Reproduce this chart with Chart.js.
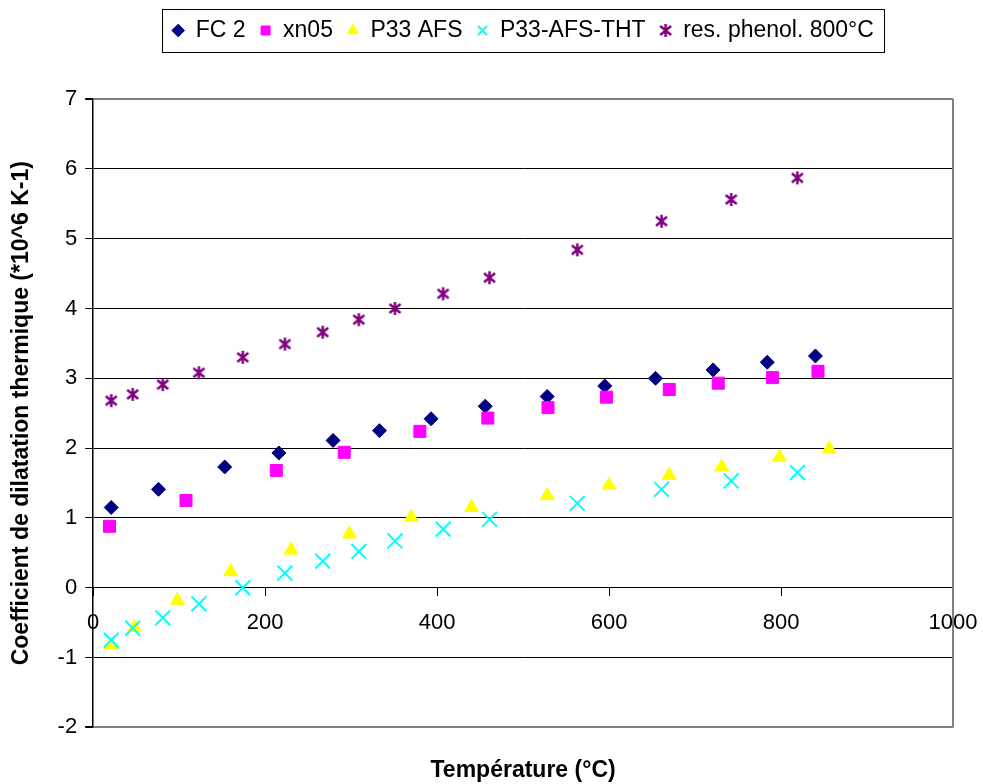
<!DOCTYPE html>
<html>
<head>
<meta charset="utf-8">
<script src="https://cdn.jsdelivr.net/npm/chart.js@4/dist/chart.umd.min.js"></script>
<style>
    html, body { margin: 0; padding: 0; background: #fff; }
    #wrap { width: 983px; height: 784px; }
</style>
</head>
<body>
<div id="wrap"><canvas id="dilatationChart"></canvas></div>
<script>
// temperatures (°C) and coefficients (*10^6 K-1)
var fc2Temp = [21, 76, 153, 216, 279, 333, 393, 456, 528, 595, 654, 721, 784, 840];
var fc2Val = [1.15, 1.41, 1.73, 1.93, 2.11, 2.25, 2.42, 2.60, 2.74, 2.89, 3.00, 3.12, 3.23, 3.32];

var xn05Temp = [19, 108, 213, 292, 380, 459, 529, 597, 670, 727, 790, 843];
var xn05Val = [0.88, 1.25, 1.68, 1.94, 2.24, 2.43, 2.58, 2.73, 2.84, 2.93, 3.01, 3.10];

var afsTemp = [21, 48, 98, 160, 230, 298, 370, 440, 528, 600, 670, 731, 798, 856];
var afsVal = [-0.82, -0.57, -0.18, 0.23, 0.54, 0.77, 1.01, 1.15, 1.32, 1.47, 1.61, 1.73, 1.87, 1.99];

var thtTemp = [21, 46, 81, 123, 174, 223, 267, 309, 351, 407, 461, 563, 661, 742, 819];
var thtVal = [-0.75, -0.58, -0.43, -0.23, 0.00, 0.21, 0.38, 0.52, 0.67, 0.84, 0.98, 1.21, 1.41, 1.53, 1.65];

var phenolTemp = [21, 46, 81, 123, 174, 223, 267, 309, 351, 407, 461, 563, 661, 742, 819];
var phenolVal = [2.68, 2.77, 2.91, 3.08, 3.30, 3.49, 3.66, 3.84, 4.00, 4.21, 4.44, 4.84, 5.25, 5.56, 5.87];

var seriesLabels = ['FC 2', 'xn05', 'P33 AFS', 'P33-AFS-THT', 'res. phenol. 800°C'];

var yMin = -2, yMax = 7;
var xMin = 0, xMax = 1000;

function toPoints(xs, ys) {
    return xs.map(function (x, i) { return { x: x, y: ys[i] }; });
}

// asterisk marker: vertical bar + X, like the Excel star
function makeAsterisk(color, size) {
    var c = document.createElement('canvas');
    c.width = size;
    c.height = size;
    var g = c.getContext('2d');
    var m = size / 2;
    g.strokeStyle = color;
    g.lineWidth = 2.5;
    g.beginPath();
    g.moveTo(m, 1);
    g.lineTo(m, size - 1);
    g.moveTo(2, 3);
    g.lineTo(size - 2, size - 3);
    g.moveTo(size - 2, 3);
    g.lineTo(2, size - 3);
    g.stroke();
    return c;
}

var fontFamily = "'Liberation Sans', Arial, sans-serif";

// gray frame on the right side of the plot area
var plotFrame = {
    id: 'plotFrame',
    afterDatasetsDraw: function (chart) {
        var a = chart.chartArea;
        var ctx = chart.ctx;
        ctx.save();
        ctx.strokeStyle = '#808080';
        ctx.lineWidth = 2;
        ctx.beginPath();
        ctx.moveTo(a.right, a.top);
        ctx.lineTo(a.right, a.bottom);
        ctx.stroke();
        ctx.restore();
    }
};

// black box around the legend items
var legendBox = {
    id: 'legendBox',
    afterDraw: function (chart) {
        var boxes = chart.legend.legendHitBoxes;
        if (!boxes || !boxes.length) return;
        var first = boxes[0];
        var last = boxes[boxes.length - 1];
        var left = first.left - 10;
        var right = last.left + last.width + 10;
        var mid = first.top + first.height / 2;
        var ctx = chart.ctx;
        ctx.save();
        ctx.strokeStyle = '#000';
        ctx.lineWidth = 1;
        ctx.strokeRect(Math.round(left) + 0.5, Math.round(mid - 21.5) + 0.5, Math.round(right - left), 43);
        ctx.restore();
    }
};

document.addEventListener("DOMContentLoaded", function () {
    var ctx = document.getElementById('dilatationChart').getContext('2d');

    var datasets = [{
        label: seriesLabels[0],
        data: toPoints(fc2Temp, fc2Val),
        pointStyle: 'rectRot',
        pointRadius: 7,
        backgroundColor: '#000080',
        borderColor: '#000080',
        borderWidth: 1
    }, {
        label: seriesLabels[1],
        data: toPoints(xn05Temp, xn05Val),
        pointStyle: 'rect',
        pointRadius: 8.5,
        backgroundColor: '#FF00FF',
        borderColor: '#FF00FF',
        borderWidth: 1
    }, {
        label: seriesLabels[2],
        data: toPoints(afsTemp, afsVal),
        pointStyle: 'triangle',
        pointRadius: 8,
        backgroundColor: '#FFFF00',
        borderColor: '#FFFF00',
        borderWidth: 1
    }, {
        label: seriesLabels[3],
        data: toPoints(thtTemp, thtVal),
        pointStyle: 'crossRot',
        pointRadius: 10.5,
        backgroundColor: '#00FFFF',
        borderColor: '#00FFFF',
        borderWidth: 2
    }, {
        label: seriesLabels[4],
        data: toPoints(phenolTemp, phenolVal),
        pointStyle: makeAsterisk('#800080', 15),
        pointRadius: 7.5,
        backgroundColor: '#800080',
        borderColor: '#800080',
        borderWidth: 2
    }];

    // later series drawn on top, as in the original
    datasets.forEach(function (d, i) {
        d.order = -i;
        d.pointHoverRadius = d.pointRadius;
        d.showLine = false;
    });

    var dilatationChart = new Chart(ctx, {
        type: 'scatter',
        data: { datasets: datasets },
        plugins: [plotFrame, legendBox],
        options: {
            responsive: true,
            maintainAspectRatio: false,
            animation: false,
            layout: {
                padding: { top: 5, left: 8, right: 30, bottom: 0 }
            },
            scales: {
                x: {
                    type: 'linear',
                    position: { y: 0 },
                    min: xMin,
                    max: xMax,
                    afterFit: function (scale) {
                        // "1000" may overhang into the right margin
                        scale.paddingRight = 0;
                        scale.paddingLeft = 0;
                    },
                    grid: {
                        drawOnChartArea: false,
                        drawTicks: true,
                        tickLength: 8,
                        color: '#000'
                    },
                    border: { color: '#000', width: 1 },
                    ticks: {
                        stepSize: 200,
                        padding: 14,
                        color: '#000',
                        font: { family: fontFamily, size: 22 },
                        callback: function (v) { return String(v); }
                    }
                },
                y: {
                    min: yMin,
                    max: yMax,
                    grid: {
                        color: function (c) {
                            return (c.tick && (c.tick.value === yMax || c.tick.value === yMin)) ? '#808080' : '#000';
                        },
                        lineWidth: function (c) {
                            return (c.tick && (c.tick.value === yMax || c.tick.value === yMin)) ? 2 : 1;
                        },
                        tickLength: 8,
                        tickColor: '#000'
                    },
                    border: { color: '#000', width: 1.5 },
                    ticks: {
                        stepSize: 1,
                        padding: 8,
                        color: '#000',
                        font: { family: fontFamily, size: 22 }
                    },
                    title: {
                        display: true,
                        text: 'Coefficient de dilatation thermique (*10^6 K-1)',
                        color: '#000',
                        padding: { top: 0, bottom: 14 },
                        font: { family: fontFamily, size: 23, weight: 'bold' }
                    }
                }
            },
            plugins: {
                legend: {
                    position: 'top',
                    fullSize: false,
                    labels: {
                        usePointStyle: true,
                        boxWidth: 12,
                        boxHeight: 9,
                        padding: 14,
                        color: '#000',
                        font: { family: fontFamily, size: 23 },
                        sort: function (a, b) { return a.datasetIndex - b.datasetIndex; }
                    }
                },
                title: {
                    // empty spacer between legend and plot
                    display: true,
                    text: ' ',
                    position: 'top',
                    weight: 500,
                    padding: 0,
                    font: { size: 10, lineHeight: 4.7 }
                },
                subtitle: {
                    display: true,
                    text: 'Température (°C)',
                    position: 'bottom',
                    fullSize: false,
                    color: '#000',
                    padding: { top: 29, bottom: 0 },
                    font: { family: fontFamily, size: 23, weight: 'bold' }
                },
                tooltip: { enabled: false }
            }
        }
    });
});
</script>
</body>
</html>
